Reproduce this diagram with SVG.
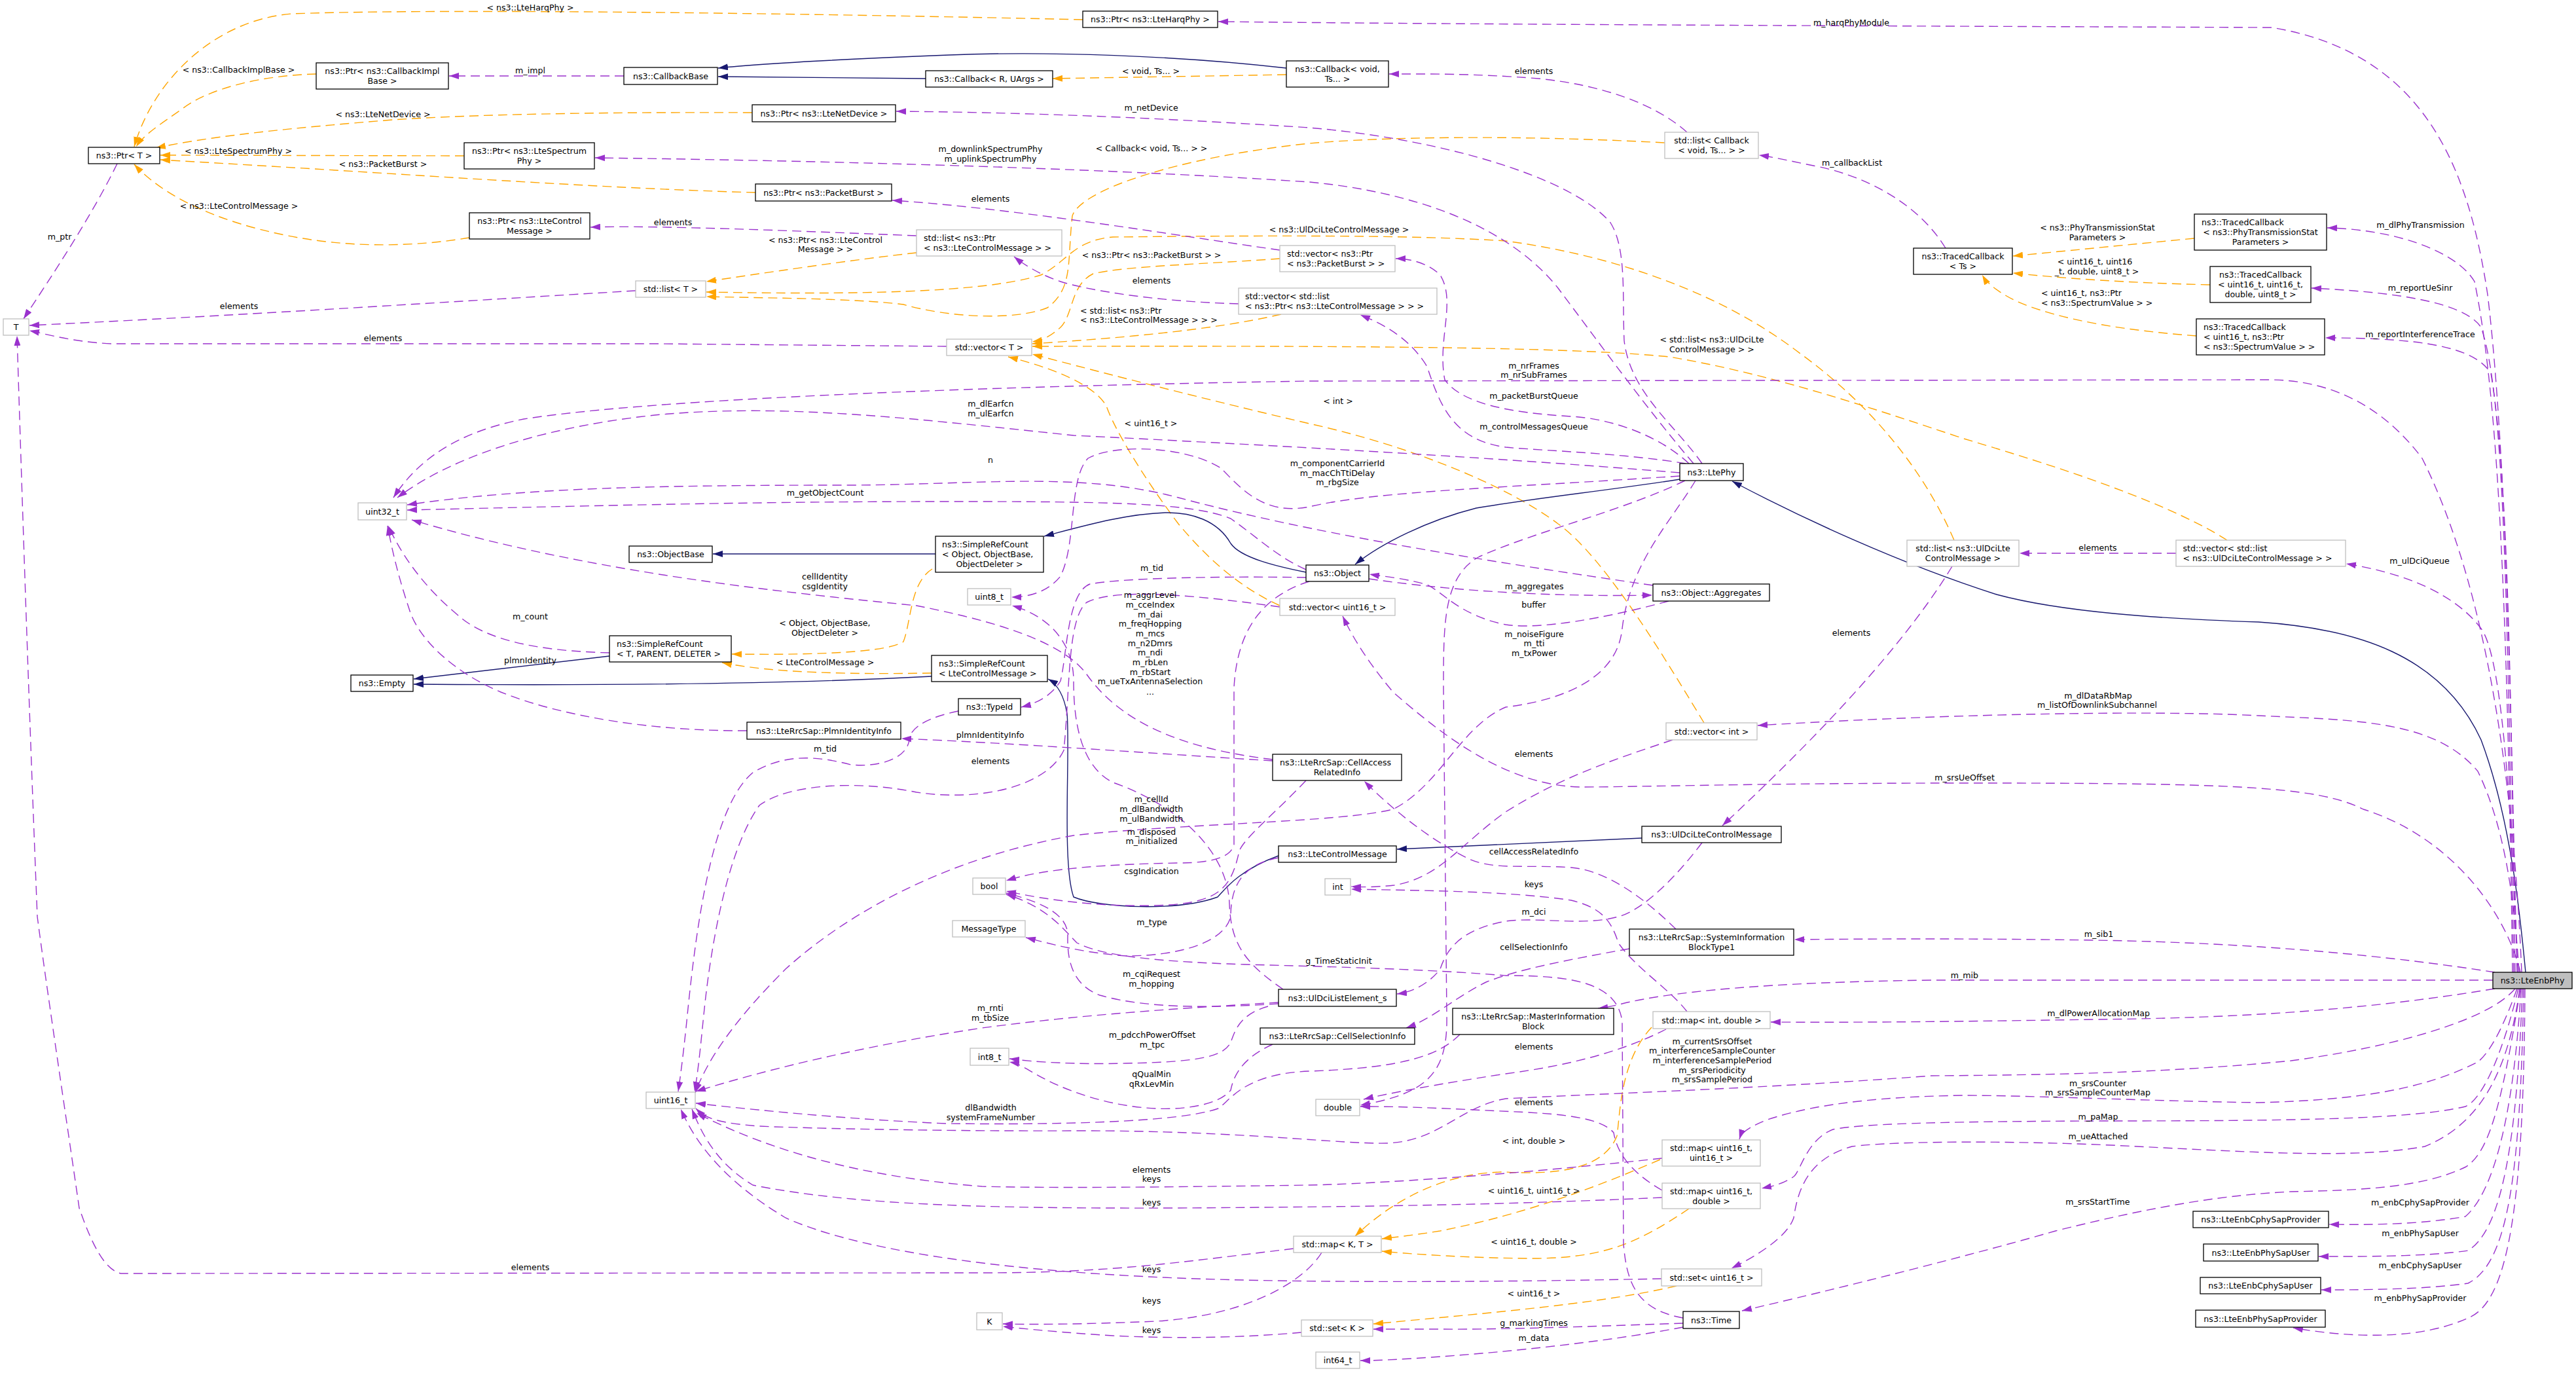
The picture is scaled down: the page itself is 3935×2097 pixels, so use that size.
<svg xmlns="http://www.w3.org/2000/svg" width="3935" height="2097" viewBox="0 0 3935 2097">
<style>
.nd rect{fill:#fff;stroke:#000;stroke-width:1.3}
.ng rect{fill:#fff;stroke:#bfbfbf;stroke-width:1.3}
.nf rect{fill:#bfbfbf;stroke:#000;stroke-width:1.3}
text{font-family:"DejaVu Sans","Liberation Sans",sans-serif;font-size:12.6px;fill:#000}
.m{text-anchor:middle}
.ep{fill:none;stroke:#9a32cd;stroke-width:1.4;stroke-dasharray:14,8;marker-end:url(#mp)}
.eo{fill:none;stroke:#ffa500;stroke-width:1.4;stroke-dasharray:14,8;marker-end:url(#mo)}
.en{fill:none;stroke:#191970;stroke-width:1.4;marker-end:url(#mn)}
</style>
<defs>
<marker id="mp" viewBox="0 0 15 10" refX="15" refY="5" markerWidth="15" markerHeight="10" markerUnits="userSpaceOnUse" orient="auto"><path d="M0,0L15,5L0,10z" fill="#9a32cd"/></marker>
<marker id="mo" viewBox="0 0 15 10" refX="15" refY="5" markerWidth="15" markerHeight="10" markerUnits="userSpaceOnUse" orient="auto"><path d="M0,0L15,5L0,10z" fill="#ffa500"/></marker>
<marker id="mn" viewBox="0 0 15 10" refX="15" refY="5" markerWidth="15" markerHeight="10" markerUnits="userSpaceOnUse" orient="auto"><path d="M0,0L15,5L0,10z" fill="#191970"/></marker>
</defs>
<rect x="0" y="0" width="3935" height="2097" fill="#fff"/>
<g id="connectors">
<path class="eo" d="M1654,30 C1300,22 700,12 446,21 C330,30 235,120 205,224"/><text class="m" x="810" y="15.5">&lt; ns3::LteHarqPhy &gt;</text>
<path class="eo" d="M483,113 C400,115 320,135 280,165 C245,190 220,205 208,224"/><text class="m" x="364.5" y="110.5">&lt; ns3::CallbackImplBase &gt;</text>
<path class="eo" d="M1149,172 C900,171 720,175 600,183 C450,195 320,208 238,226"/><text class="m" x="585" y="178.5">&lt; ns3::LteNetDevice &gt;</text>
<path class="eo" d="M709,238 L245,237"/><text class="m" x="364" y="234.5">&lt; ns3::LteSpectrumPhy &gt;</text>
<path class="eo" d="M1154,294 C1000,290 800,278 640,268 C500,259 350,250 245,244"/><text class="m" x="585" y="254.5">&lt; ns3::PacketBurst &gt;</text>
<path class="eo" d="M717,363 C640,376 540,380 440,360 C330,338 250,300 205,251"/><text class="m" x="365" y="318.5">&lt; ns3::LteControlMessage &gt;</text>
<path class="eo" d="M1965,114 L1608,120"/><text class="m" x="1758" y="112.5">&lt; void, Ts... &gt;</text>
<path class="eo" d="M1400,386 C1300,397 1160,418 1079,430"/><text class="m" x="1261" y="370.5">&lt; ns3::Ptr&lt; ns3::LteControl</text><text class="m" x="1261" y="385">Message &gt; &gt;</text>
<path class="eo" d="M2985,825 C2940,720 2860,620 2750,540 C2620,440 2450,388 2300,368 C2150,358 1900,360 1700,362 C1640,367 1630,400 1590,420 C1500,448 1300,450 1079,446"/><text class="m" x="2045.5" y="355">&lt; ns3::UlDciLteControlMessage &gt;</text>
<path class="eo" d="M2543,218 C2300,205 2100,210 2000,219 C1800,240 1650,290 1638,330 C1630,400 1640,440 1600,470 C1550,490 1450,485 1380,465 C1300,455 1150,455 1079,453"/><text class="m" x="1759" y="231.3">&lt; Callback&lt; void, Ts... &gt; &gt;</text>
<path class="eo" d="M1957,480 C1850,505 1700,517 1577,525"/><text x="1650" y="478.5">&lt; std::list&lt; ns3::Ptr</text><text x="1650" y="492.5">&lt; ns3::LteControlMessage &gt; &gt; &gt;</text>
<path class="eo" d="M1955,395 C1850,403 1720,406 1670,418 C1635,435 1640,480 1620,500 C1605,513 1595,519 1577,522"/><text class="m" x="1759" y="394.2">&lt; ns3::Ptr&lt; ns3::PacketBurst &gt; &gt;</text>
<path class="eo" d="M3402,825 C3300,760 3100,700 3000,670 C2850,620 2700,570 2550,545 C2400,530 2100,528 1577,529"/><text class="m" x="2615" y="523.3">&lt; std::list&lt; ns3::UlDciLte</text><text class="m" x="2615" y="537.5">ControlMessage &gt; &gt;</text>
<path class="eo" d="M2603,1104 C2540,1000 2450,850 2380,800 C2300,740 2150,680 2000,647 C1800,600 1650,560 1577,541"/><text class="m" x="2044" y="617">&lt; int &gt;</text>
<path class="eo" d="M1955,925 C1900,900 1850,860 1800,800 C1740,720 1700,650 1690,620 C1670,585 1600,560 1540,545"/><text class="m" x="1758" y="651">&lt; uint16_t &gt;</text>
<path class="eo" d="M3352,364 L3075,391"/><text class="m" x="3204" y="351.5">&lt; ns3::PhyTransmissionStat</text><text class="m" x="3204" y="367">Parameters &gt;</text>
<path class="eo" d="M3376,435 C3250,432 3150,425 3075,417"/><text class="m" x="3200" y="404">&lt; uint16_t, uint16</text><text class="m" x="3203" y="418.5">_t, double, uint8_t &gt;</text>
<path class="eo" d="M3355,513 C3250,505 3150,490 3080,460 C3050,445 3035,432 3028,420"/><text x="3118" y="451.5">&lt; uint16_t, ns3::Ptr</text><text x="3118" y="467">&lt; ns3::SpectrumValue &gt; &gt;</text>
<path class="eo" d="M1424,869 C1390,890 1392,950 1380,980 C1350,1000 1200,1000 1118,999"/><text class="m" x="1260" y="955.8">&lt; Object, ObjectBase,</text><text class="m" x="1260" y="971">ObjectDeleter &gt;</text>
<path class="eo" d="M1423,1028 C1300,1030 1180,1028 1103,1012"/><text class="m" x="1260.5" y="1015.5">&lt; LteControlMessage &gt;</text>
<path class="eo" d="M2523,1569 C2475,1620 2475,1700 2470,1735 C2450,1785 2380,1795 2300,1790 C2200,1790 2120,1840 2070,1888"/><text class="m" x="2343" y="1746.8">&lt; int, double &gt;</text>
<path class="eo" d="M2536,1771 C2400,1830 2300,1860 2200,1880 C2150,1888 2125,1890 2111,1892"/><text class="m" x="2343" y="1823.2">&lt; uint16_t, uint16_t &gt;</text>
<path class="eo" d="M2580,1846 C2500,1900 2450,1920 2350,1922 C2250,1922 2150,1915 2111,1911"/><text class="m" x="2343" y="1901">&lt; uint16_t, double &gt;</text>
<path class="eo" d="M2561,1964 C2450,1990 2300,2003 2098,2022"/><text class="m" x="2343" y="1980.2">&lt; uint16_t &gt;</text>
<path class="en" d="M1965,104 C1800,85 1600,78 1450,84 C1300,90 1150,98 1097,104"/>
<path class="en" d="M1414,120 L1097,117"/>
<path class="en" d="M1429,846 L1089,846"/>
<path class="en" d="M1995,874 C1950,865 1895,852 1880,830 C1860,795 1820,782 1780,783 C1720,785 1660,802 1595,819"/>
<path class="en" d="M2566,732 C2450,750 2350,760 2255,776 C2180,795 2110,830 2070,862"/>
<path class="en" d="M3858,1485 C3850,1400 3835,1250 3790,1130 C3730,1000 3600,960 3450,950 C3300,945 3150,935 3050,908 C2900,860 2750,790 2646,735"/>
<path class="en" d="M931,1002 L632,1037"/>
<path class="en" d="M1423,1033 C1200,1045 900,1047 632,1045"/>
<path class="en" d="M1953,1307 C1890,1330 1870,1360 1860,1370 C1800,1392 1680,1387 1640,1370 C1622,1320 1635,1150 1630,1090 C1625,1060 1615,1045 1601,1037"/>
<path class="en" d="M2508,1280 L2134,1297"/>
<path class="ep" d="M3845,1485 C3835,1100 3830,700 3800,450 C3770,250 3700,80 3470,42 C3000,40 2300,38 1861,33"/><text class="m" x="2828" y="38.9">m_harqPhyModule</text>
<path class="ep" d="M953,116 L686,116"/><text class="m" x="810" y="111.5">m_impl</text>
<path class="ep" d="M2600,708 C2560,650 2490,600 2481,520 C2478,450 2485,380 2460,340 C2400,270 2200,212 2000,195 C1800,182 1600,172 1369,170"/><text class="m" x="1758.6" y="168.5">m_netDevice</text>
<path class="ep" d="M2587,708 C2520,630 2440,520 2380,440 C2300,340 2150,292 2000,278 C1700,258 1300,246 909,241"/><text class="m" x="1513" y="232.2">m_downlinkSpectrumPhy</text><text class="m" x="1513" y="246.9">m_uplinkSpectrumPhy</text>
<path class="ep" d="M1400,360 C1200,352 1000,344 902,347"/><text class="m" x="1028" y="343.8">elements</text>
<path class="ep" d="M1955,382 C1800,360 1550,318 1363,306"/><text class="m" x="1513" y="308.1">elements</text>
<path class="ep" d="M1892,464 C1750,460 1650,440 1620,430 C1590,420 1565,405 1549,392"/><text class="m" x="1759" y="433.1">elements</text>
<path class="ep" d="M2577,202 C2530,160 2450,130 2350,120 C2250,112 2180,113 2122,113"/><text class="m" x="2343" y="113">elements</text>
<path class="ep" d="M2972,379 C2930,310 2850,270 2780,255 C2730,245 2710,240 2687,237"/><text class="m" x="2829" y="253.2">m_callbackList</text>
<path class="ep" d="M3838,1485 C3830,900 3815,600 3780,430 C3750,380 3650,350 3555,348"/><text class="m" x="3697.5" y="348.2">m_dlPhyTransmission</text>
<path class="ep" d="M3840,1485 C3830,900 3825,600 3790,500 C3770,470 3700,448 3531,440"/><text class="m" x="3697" y="444.2">m_reportUeSinr</text>
<path class="ep" d="M3842,1485 C3835,1000 3830,720 3805,570 C3780,530 3700,516 3552,516"/><text class="m" x="3697" y="514.8">m_reportInterferenceTrace</text>
<path class="ep" d="M3846,1485 C3835,1200 3820,1000 3790,960 C3760,920 3700,880 3584,861"/><text class="m" x="3696" y="860.5">m_ulDciQueue</text>
<path class="ep" d="M3848,1485 C3840,1350 3820,1250 3785,1178 C3720,1100 3600,1100 3450,1093 C3300,1085 3000,1089 2685,1108"/><text class="m" x="3205" y="1067">m_dlDataRbMap</text><text class="m" x="3203.5" y="1080.8">m_listOfDownlinkSubchannel</text>
<path class="ep" d="M3850,1485 C3830,1400 3750,1280 3610,1236 C3540,1200 3400,1196 3000,1196 C2700,1196 2500,1202 2414,1202 C2300,1200 2200,1120 2128,1057 C2080,1000 2060,960 2051,941"/><text class="m" x="3001" y="1192">m_srsUeOffset</text>
<path class="ep" d="M3852,1485 C3840,1200 3800,900 3700,700 C3640,620 3560,580 3465,580 L2000,582 C1500,590 1000,609 800,640 C700,660 640,700 601,760"/><text class="m" x="2343" y="563">m_nrFrames</text><text class="m" x="2343" y="576.8">m_nrSubFrames</text>
<path class="ep" d="M2566,722 C2300,700 2000,683 1640,665 C1400,640 1200,615 1000,634 C850,650 700,690 607,760"/><text class="m" x="1513.4" y="620.5">m_dlEarfcn</text><text class="m" x="1513.4" y="635.5">m_ulEarfcn</text>
<path class="ep" d="M2525,894 C2150,840 1950,800 1800,760 C1650,720 1500,740 1300,741 C1000,741 800,745 622,771"/><text class="m" x="1513" y="706.5">n</text>
<path class="ep" d="M2566,727 C2300,745 2100,750 2000,774 C1930,788 1895,745 1865,715 C1810,680 1700,678 1662,700 C1632,730 1645,830 1620,880 C1600,905 1570,912 1545,912"/><text class="m" x="2043" y="712.1">m_componentCarrierId</text><text class="m" x="2043" y="726.8">m_macChTtiDelay</text><text class="m" x="2043" y="741.1">m_rbgSize</text>
<path class="ep" d="M1995,870 C1950,850 1920,820 1880,792 C1820,768 1700,766 1450,766 C1200,766 1000,770 622,779"/><text class="m" x="1260.5" y="756.5">m_getObjectCount</text>
<path class="ep" d="M1944,1160 C1830,1146 1720,1115 1660,1030 C1620,975 1500,945 1400,925 C1200,905 900,875 629,794"/><text class="m" x="1260" y="884.9">cellIdentity</text><text class="m" x="1260" y="900">csgIdentity</text>
<path class="ep" d="M931,997 C850,995 750,985 700,940 C640,890 610,840 593,803"/><text class="m" x="810" y="945.5">m_count</text>
<path class="ep" d="M1141,1116 C1000,1117 860,1095 765,1057 C700,1030 640,980 625,930 C605,870 597,830 592,803"/><text class="m" x="810" y="1012.5">plmnIdentity</text>
<path class="ep" d="M1995,882 C1880,880 1720,882 1665,892 C1630,905 1630,1000 1620,1040 C1605,1065 1580,1075 1560,1080"/><text class="m" x="1759.6" y="871.9">m_tid</text>
<path class="ep" d="M1464,1086 C1420,1095 1390,1110 1389,1130 C1385,1160 1340,1172 1300,1168 C1250,1155 1200,1150 1150,1180 C1090,1230 1065,1400 1050,1550 C1045,1600 1040,1640 1036,1667"/><text class="m" x="1260.6" y="1147.5">m_tid</text>
<path class="ep" d="M1955,927 C1800,905 1700,900 1660,920 C1630,945 1635,1050 1625,1146 C1600,1200 1500,1225 1400,1210 C1300,1190 1200,1200 1160,1230 C1110,1300 1085,1450 1075,1550 C1070,1600 1066,1640 1061,1667"/><text class="m" x="1513" y="1166.5">elements</text>
<path class="ep" d="M1960,1511 C1900,1470 1880,1440 1878,1380 C1875,1300 1800,1230 1700,1195 C1650,1170 1640,1100 1640,1040 C1640,980 1600,940 1546,925"/>
<text class="m" x="1757" y="913">m_aggrLevel</text><text class="m" x="1757" y="928.2">m_cceIndex</text><text class="m" x="1757" y="942.9">m_dai</text><text class="m" x="1757" y="957.2">m_freqHopping</text><text class="m" x="1757" y="972.4">m_mcs</text><text class="m" x="1757" y="987.1">m_n2Dmrs</text><text class="m" x="1757" y="1000.9">m_ndi</text><text class="m" x="1757" y="1016.1">m_rbLen</text><text class="m" x="1757" y="1030.8">m_rbStart</text><text class="m" x="1757" y="1045.1">m_ueTxAntennaSelection</text><text class="m" x="1757" y="1060.5">...</text>
<path class="ep" d="M2091,884 C2200,900 2350,912 2524,909"/><text class="m" x="2343.6" y="900">m_aggregates</text>
<path class="ep" d="M2549,918 C2450,945 2350,962 2300,954 C2230,940 2205,905 2180,893 C2140,882 2110,880 2092,877"/><text class="m" x="2343" y="927.5">buffer</text>
<path class="ep" d="M2574,734 C2480,780 2350,810 2260,850 C2205,880 2205,950 2205,1050 L2210,1550 C2212,1640 2180,1670 2078,1688"/><text class="m" x="2343.6" y="972.5">m_noiseFigure</text><text class="m" x="2343.6" y="987.1">m_tti</text><text class="m" x="2343.6" y="1001.5">m_txPower</text>
<path class="ep" d="M2580,708 C2540,670 2470,640 2400,636 C2300,630 2232,615 2207,580 C2195,520 2225,460 2200,420 C2180,400 2150,395 2132,395"/><text class="m" x="2343" y="609">m_packetBurstQueue</text>
<path class="ep" d="M2575,708 C2480,692 2350,688 2300,683 C2220,672 2200,620 2180,560 C2150,510 2100,490 2078,481"/><text class="m" x="2343" y="655.5">m_controlMessagesQueue</text>
<path class="ep" d="M2590,734 C2550,800 2490,860 2478,960 C2470,1040 2380,1070 2300,1080 C2230,1110 2200,1200 2128,1236 C2050,1256 1800,1258 1640,1276 C1450,1310 1300,1390 1200,1480 C1120,1560 1080,1620 1062,1669"/><text class="m" x="1758.7" y="1224.5">m_cellId</text><text class="m" x="1758.7" y="1239.8">m_dlBandwidth</text><text class="m" x="1758.7" y="1254.9">m_ulBandwidth</text>
<path class="ep" d="M2000,888 C1930,910 1890,960 1885,1050 L1885,1290 C1880,1310 1850,1318 1800,1318 C1700,1320 1600,1325 1537,1345"/><text class="m" x="1759" y="1275">m_disposed</text><text class="m" x="1759" y="1289.3">m_initialized</text>
<path class="ep" d="M1995,1192 C1950,1240 1900,1280 1893,1300 C1880,1360 1860,1380 1765,1383 C1680,1385 1600,1375 1537,1361"/><text class="m" x="1759" y="1334.5">csgIndication</text>
<path class="ep" d="M1944,1162 C1750,1150 1550,1135 1377,1128"/><text class="m" x="1512.6" y="1126.5">plmnIdentityInfo</text>
<path class="ep" d="M1953,1533 C1850,1540 1750,1540 1680,1520 C1640,1505 1630,1470 1631,1430 C1632,1400 1600,1380 1537,1364"/><text class="m" x="1759" y="1492.1">m_cqiRequest</text><text class="m" x="1759" y="1507.2">m_hopping</text>
<path class="ep" d="M1953,1310 C1900,1320 1880,1350 1880,1400 C1870,1440 1800,1460 1720,1460 C1650,1455 1600,1440 1567,1432"/><text class="m" x="1759.5" y="1413.4">m_type</text>
<path class="ep" d="M2571,2013 C2500,2000 2485,1960 2480,1900 L2478,1560 C2470,1500 2400,1490 2300,1490 C2200,1482 2100,1478 1900,1473 C1750,1468 1680,1458 1645,1440 C1625,1420 1600,1385 1537,1366"/><text class="m" x="2045" y="1472.1">g_TimeStaticInit</text>
<path class="ep" d="M2600,1287 C2560,1340 2510,1390 2472,1400 C2420,1415 2350,1400 2300,1407 C2230,1420 2210,1450 2200,1480 C2185,1500 2160,1515 2134,1518"/><text class="m" x="2343" y="1397.3">m_dci</text>
<path class="ep" d="M2982,865 C2900,1000 2750,1150 2631,1261"/><text class="m" x="2828" y="971">elements</text>
<path class="ep" d="M3324,845 L3085,845"/><text class="m" x="3204.4" y="840.7">elements</text>
<path class="ep" d="M2555,1130 C2450,1165 2380,1190 2300,1240 C2230,1290 2200,1340 2130,1352 C2100,1355 2080,1355 2064,1354"/><text class="m" x="2343" y="1155.5">elements</text>
<path class="ep" d="M2577,1545 C2550,1510 2500,1480 2472,1440 C2460,1400 2440,1385 2400,1375 C2300,1360 2150,1360 2064,1358"/><text class="m" x="2343" y="1354.9">keys</text>
<path class="ep" d="M2560,1419 C2520,1380 2460,1330 2400,1325 C2330,1320 2280,1330 2240,1310 C2180,1280 2120,1230 2084,1193"/><text class="m" x="2343" y="1304.9">cellAccessRelatedInfo</text>
<path class="ep" d="M2489,1449 C2400,1465 2320,1480 2270,1500 C2220,1525 2190,1555 2148,1570"/><text class="m" x="2343" y="1450.7">cellSelectionInfo</text>
<path class="ep" d="M1953,1531 C1800,1540 1650,1550 1500,1570 C1300,1600 1150,1640 1063,1667"/><text class="m" x="1512.7" y="1544.1">m_rnti</text><text class="m" x="1512.7" y="1559.2">m_tbSize</text>
<path class="ep" d="M1937,1537 C1890,1550 1885,1580 1880,1592 C1870,1612 1840,1622 1720,1624 C1640,1626 1580,1622 1542,1617"/><text class="m" x="1760" y="1585">m_pdcchPowerOffset</text><text class="m" x="1760" y="1600.1">m_tpc</text>
<path class="ep" d="M1944,1595 C1900,1615 1885,1640 1880,1665 C1860,1690 1800,1695 1765,1693 C1700,1690 1640,1670 1600,1650 C1570,1635 1560,1625 1542,1622"/><text class="m" x="1759" y="1645">qQualMin</text><text class="m" x="1759" y="1660.1">qRxLevMin</text>
<path class="ep" d="M2230,1580 C2200,1610 2150,1631 2000,1636 C1900,1640 1880,1680 1861,1693 C1800,1715 1600,1718 1446,1716 C1300,1710 1150,1695 1063,1685"/><text class="m" x="1513.5" y="1695.5">dlBandwidth</text><text class="m" x="1513.5" y="1710.5">systemFrameNumber</text>
<path class="ep" d="M3842,1510 C3800,1560 3650,1600 3500,1620 C3300,1640 3100,1642 2950,1643 C2700,1662 2500,1668 2300,1678 C2230,1690 2200,1742 2120,1746 C2050,1748 1900,1727 1650,1727 C1400,1728 1200,1722 1159,1720 C1100,1715 1080,1710 1063,1693"/><text class="m" x="2615.4" y="1594.8">m_currentSrsOffset</text><text class="m" x="2615.4" y="1609">m_interferenceSampleCounter</text><text class="m" x="2615.4" y="1623.7">m_interferenceSamplePeriod</text><text class="m" x="2615.4" y="1638.8">m_srsPeriodicity</text><text class="m" x="2615.4" y="1653">m_srsSamplePeriod</text>
<path class="ep" d="M2539,1769 C2300,1795 2100,1808 2000,1810 C1800,1813 1600,1815 1500,1812 C1350,1800 1200,1770 1064,1700"/><text class="m" x="1759" y="1791.2">elements</text><text class="m" x="1759" y="1805">keys</text>
<path class="ep" d="M2539,1829 C2300,1840 2100,1843 1800,1845 C1500,1846 1300,1840 1150,1810 C1100,1780 1075,1740 1057,1694"/><text class="m" x="1759" y="1841">keys</text>
<path class="ep" d="M2538,1953 C2300,1958 2000,1960 1800,1952 C1500,1940 1300,1905 1200,1860 C1100,1800 1060,1740 1040,1694"/><text class="m" x="1759" y="1943.3">keys</text>
<path class="ep" d="M1976,1907 C1800,1928 1700,1944 1500,1944 L185,1945 C160,1940 140,1900 121,1845 C100,1700 70,1500 57,1400 C45,1100 35,800 26,513"/><text class="m" x="810" y="1940.1">elements</text>
<path class="ep" d="M2019,1913 C1990,1960 1900,2010 1765,2018 C1650,2023 1570,2023 1532,2022"/><text class="m" x="1759" y="1991.3">keys</text>
<path class="ep" d="M1988,2035 C1900,2043 1800,2045 1700,2040 C1620,2035 1570,2030 1532,2026"/><text class="m" x="1759" y="2035.7">keys</text>
<path class="ep" d="M2571,2021 C2450,2025 2300,2031 2200,2030 C2150,2030 2120,2030 2098,2030"/><text class="m" x="2343" y="2024.5">g_markingTimes</text>
<path class="ep" d="M2571,2027 C2450,2050 2300,2065 2200,2072 C2130,2077 2100,2078 2078,2078"/><text class="m" x="2343" y="2048.2">m_data</text>
<path class="ep" d="M3850,1510 C3820,1700 3800,1760 3767,1782 C3700,1815 3600,1818 3500,1820 C3400,1825 3300,1840 3140,1880 C3000,1920 2800,1970 2661,2002"/><text class="m" x="3204.4" y="1840.1">m_srsStartTime</text>
<path class="ep" d="M3811,1485 C3650,1460 3450,1440 3200,1436 C3000,1433 2850,1434 2741,1435"/><text class="m" x="3206" y="1431">m_sib1</text>
<path class="ep" d="M3808,1497 L2950,1497 C2700,1500 2550,1515 2478,1533 C2462,1537 2452,1539 2441,1540"/><text class="m" x="3000.8" y="1493.5">m_mib</text>
<path class="ep" d="M3811,1510 C3600,1545 3400,1555 3200,1557 C3000,1560 2850,1562 2705,1561"/><text class="m" x="3205.6" y="1552.1">m_dlPowerAllocationMap</text>
<path class="ep" d="M3845,1510 C3820,1580 3800,1610 3785,1622 C3700,1665 3600,1680 3450,1684 C3300,1682 3100,1673 3000,1673 C2850,1675 2760,1690 2700,1710 C2670,1722 2660,1730 2657,1740"/><text class="m" x="3204.5" y="1659.2">m_srsCounter</text><text class="m" x="3204.5" y="1673">m_srsSampleCounterMap</text>
<path class="ep" d="M3847,1510 C3820,1620 3790,1680 3766,1690 C3680,1710 3500,1712 3200,1712 C3000,1713 2850,1715 2800,1725 C2760,1740 2750,1790 2740,1797 C2720,1810 2705,1812 2691,1815"/><text class="m" x="3205" y="1709.5">m_paMap</text>
<path class="ep" d="M3849,1510 C3830,1650 3780,1720 3704,1751 C3600,1770 3450,1760 3264,1751 C3100,1742 2900,1742 2829,1751 C2760,1770 2746,1820 2740,1860 C2730,1890 2680,1920 2645,1937"/><text class="m" x="3205" y="1740.1">m_ueAttached</text>
<path class="ep" d="M3851,1510 C3840,1700 3810,1820 3766,1858 C3700,1870 3620,1871 3558,1870"/><text class="m" x="3697" y="1841">m_enbCphySapProvider</text>
<path class="ep" d="M3853,1510 C3845,1750 3820,1880 3770,1910 C3700,1920 3600,1919 3542,1919"/><text class="m" x="3697" y="1888.1">m_enbPhySapUser</text>
<path class="ep" d="M3855,1510 C3850,1800 3830,1930 3770,1960 C3700,1970 3600,1970 3546,1970"/><text class="m" x="3697" y="1937">m_enbCphySapUser</text>
<path class="ep" d="M3857,1510 C3855,1850 3830,1990 3770,2013 C3700,2045 3600,2045 3503,2028"/><text class="m" x="3697" y="1987.3">m_enbPhySapProvider</text>
<path class="ep" d="M2545,1572 C2480,1605 2400,1627 2300,1640 C2200,1655 2120,1670 2083,1679"/><text class="m" x="2343" y="1603.2">elements</text>
<path class="ep" d="M2539,1818 C2490,1790 2470,1760 2465,1730 C2440,1700 2350,1700 2250,1695 C2150,1690 2110,1690 2078,1690"/><text class="m" x="2343" y="1688.1">elements</text>
<path class="ep" d="M179,250 C140,330 80,420 36,487"/><text class="m" x="91" y="365.5">m_ptr</text>
<path class="ep" d="M971,444 C700,460 400,480 45,497"/><text class="m" x="365" y="471.5">elements</text>
<path class="ep" d="M1446,529 L1000,525 C600,525 300,525 170,525 C110,522 70,510 45,505"/><text class="m" x="585" y="521">elements</text>
</g>
<g id="n_PtrT" class="nd"><rect x="135" y="225" width="109" height="25"/><text class="m" x="189.5" y="242">ns3::Ptr&lt; T &gt;</text></g>
<g id="n_PtrCallbackImplBase" class="nd"><rect x="483" y="96" width="202" height="40"/><text class="m" x="584" y="113">ns3::Ptr&lt; ns3::CallbackImpl</text><text class="m" x="584" y="128">Base &gt;</text></g>
<g id="n_PtrLteSpectrumPhy" class="nd"><rect x="709" y="218" width="199" height="40"/><text class="m" x="808.5" y="235">ns3::Ptr&lt; ns3::LteSpectrum</text><text class="m" x="808.5" y="250">Phy &gt;</text></g>
<g id="n_PtrLteControlMessage" class="nd"><rect x="717" y="325" width="184" height="40"/><text class="m" x="809" y="342">ns3::Ptr&lt; ns3::LteControl</text><text class="m" x="809" y="357">Message &gt;</text></g>
<g id="n_T" class="ng"><rect x="5" y="487" width="39" height="25"/><text class="m" x="24.5" y="504">T</text></g>
<g id="n_CallbackBase" class="nd"><rect x="953" y="103" width="143" height="26"/><text class="m" x="1024.5" y="120.5">ns3::CallbackBase</text></g>
<g id="n_PtrLteHarqPhy" class="nd"><rect x="1654" y="17" width="206" height="25"/><text class="m" x="1757" y="34">ns3::Ptr&lt; ns3::LteHarqPhy &gt;</text></g>
<g id="n_CallbackRUArgs" class="nd"><rect x="1414" y="108" width="194" height="25"/><text class="m" x="1511" y="125">ns3::Callback&lt; R, UArgs &gt;</text></g>
<g id="n_PtrLteNetDevice" class="nd"><rect x="1149" y="160" width="219" height="26"/><text class="m" x="1258.5" y="177.5">ns3::Ptr&lt; ns3::LteNetDevice &gt;</text></g>
<g id="n_PtrPacketBurst" class="nd"><rect x="1154" y="281" width="208" height="26"/><text class="m" x="1258" y="298.5">ns3::Ptr&lt; ns3::PacketBurst &gt;</text></g>
<g id="n_listPtrLteControlMessage" class="ng"><rect x="1400" y="351" width="222" height="40"/><text x="1411" y="368">std::list&lt; ns3::Ptr</text><text x="1411" y="383">&lt; ns3::LteControlMessage &gt; &gt;</text></g>
<g id="n_listT" class="ng"><rect x="971" y="429" width="107" height="25"/><text class="m" x="1024.5" y="446">std::list&lt; T &gt;</text></g>
<g id="n_vectorListPtrLteControlMessage" class="ng"><rect x="1892" y="440" width="303" height="40"/><text x="1902" y="457">std::vector&lt; std::list</text><text x="1902" y="472">&lt; ns3::Ptr&lt; ns3::LteControlMessage &gt; &gt; &gt;</text></g>
<g id="n_vectorPtrPacketBurst" class="ng"><rect x="1955" y="375" width="176" height="40"/><text x="1966" y="392">std::vector&lt; ns3::Ptr</text><text x="1966" y="407">&lt; ns3::PacketBurst &gt; &gt;</text></g>
<g id="n_vectorT" class="ng"><rect x="1446" y="518" width="130" height="25"/><text class="m" x="1511" y="535">std::vector&lt; T &gt;</text></g>
<g id="n_CallbackVoidTs" class="nd"><rect x="1965" y="93" width="156" height="40"/><text class="m" x="2043" y="110">ns3::Callback&lt; void,</text><text class="m" x="2043" y="125">Ts... &gt;</text></g>
<g id="n_listCallback" class="ng"><rect x="2543" y="202" width="143" height="40"/><text class="m" x="2614.5" y="219">std::list&lt; Callback</text><text class="m" x="2614.5" y="234">&lt; void, Ts... &gt; &gt;</text></g>
<g id="n_TracedCallbackTs" class="nd"><rect x="2923" y="379" width="151" height="40"/><text class="m" x="2998.5" y="396">ns3::TracedCallback</text><text class="m" x="2998.5" y="411">&lt; Ts &gt;</text></g>
<g id="n_TracedCallbackPhyTx" class="nd"><rect x="3352" y="327" width="202" height="55"/><text x="3363" y="344">ns3::TracedCallback</text><text class="m" x="3453" y="359">&lt; ns3::PhyTransmissionStat</text><text class="m" x="3453" y="374">Parameters &gt;</text></g>
<g id="n_TracedCallbackSinr" class="nd"><rect x="3376" y="407" width="154" height="55"/><text class="m" x="3453" y="424">ns3::TracedCallback</text><text class="m" x="3453" y="439">&lt; uint16_t, uint16_t,</text><text class="m" x="3453" y="454">double, uint8_t &gt;</text></g>
<g id="n_TracedCallbackSpectrum" class="nd"><rect x="3355" y="487" width="196" height="55"/><text x="3366" y="504">ns3::TracedCallback</text><text x="3366" y="519">&lt; uint16_t, ns3::Ptr</text><text x="3366" y="534">&lt; ns3::SpectrumValue &gt; &gt;</text></g>
<g id="n_uint32_t" class="ng"><rect x="547" y="768" width="74" height="26"/><text class="m" x="584" y="785.5">uint32_t</text></g>
<g id="n_ObjectBase" class="nd"><rect x="961" y="834" width="127" height="25"/><text class="m" x="1024.5" y="851">ns3::ObjectBase</text></g>
<g id="n_SimpleRefCountTPD" class="nd"><rect x="931" y="971" width="186" height="40"/><text x="942" y="988">ns3::SimpleRefCount</text><text x="942" y="1003">&lt; T, PARENT, DELETER &gt;</text></g>
<g id="n_Empty" class="nd"><rect x="536" y="1031" width="95" height="25"/><text class="m" x="583.5" y="1048">ns3::Empty</text></g>
<g id="n_SimpleRefCountObject" class="nd"><rect x="1429" y="819" width="165" height="55"/><text x="1439" y="836">ns3::SimpleRefCount</text><text x="1439" y="851">&lt; Object, ObjectBase,</text><text class="m" x="1511.5" y="866">ObjectDeleter &gt;</text></g>
<g id="n_uint8_t" class="ng"><rect x="1478" y="899" width="66" height="25"/><text class="m" x="1511" y="916">uint8_t</text></g>
<g id="n_SimpleRefCountLteControlMessage" class="nd"><rect x="1423" y="1001" width="177" height="40"/><text x="1434" y="1018">ns3::SimpleRefCount</text><text x="1434" y="1033">&lt; LteControlMessage &gt;</text></g>
<g id="n_TypeId" class="nd"><rect x="1464" y="1067" width="95" height="25"/><text class="m" x="1511.5" y="1084">ns3::TypeId</text></g>
<g id="n_PlmnIdentityInfo" class="nd"><rect x="1141" y="1103" width="235" height="26"/><text class="m" x="1258.5" y="1120.5">ns3::LteRrcSap::PlmnIdentityInfo</text></g>
<g id="n_CellAccessRelatedInfo" class="nd"><rect x="1944" y="1152" width="197" height="40"/><text x="1955" y="1169">ns3::LteRrcSap::CellAccess</text><text class="m" x="2042.5" y="1184">RelatedInfo</text></g>
<g id="n_bool" class="ng"><rect x="1486" y="1341" width="50" height="25"/><text class="m" x="1511" y="1358">bool</text></g>
<g id="n_LteControlMessage" class="nd"><rect x="1953" y="1292" width="180" height="25"/><text class="m" x="2043" y="1309">ns3::LteControlMessage</text></g>
<g id="n_LtePhy" class="nd"><rect x="2566" y="708" width="97" height="26"/><text class="m" x="2614.5" y="725.5">ns3::LtePhy</text></g>
<g id="n_Object" class="nd"><rect x="1995" y="863" width="96" height="25"/><text class="m" x="2043" y="880">ns3::Object</text></g>
<g id="n_Aggregates" class="nd"><rect x="2525" y="892" width="178" height="26"/><text class="m" x="2614" y="909.5">ns3::Object::Aggregates</text></g>
<g id="n_vectorUint16" class="ng"><rect x="1955" y="914" width="176" height="26"/><text class="m" x="2043" y="931.5">std::vector&lt; uint16_t &gt;</text></g>
<g id="n_vectorInt" class="ng"><rect x="2545" y="1104" width="139" height="26"/><text class="m" x="2614.5" y="1121.5">std::vector&lt; int &gt;</text></g>
<g id="n_listUlDci" class="ng"><rect x="2913" y="825" width="171" height="40"/><text class="m" x="2998.5" y="842">std::list&lt; ns3::UlDciLte</text><text class="m" x="2998.5" y="857">ControlMessage &gt;</text></g>
<g id="n_vectorListUlDci" class="ng"><rect x="3324" y="825" width="259" height="40"/><text x="3334.5" y="842">std::vector&lt; std::list</text><text x="3334.5" y="857">&lt; ns3::UlDciLteControlMessage &gt; &gt;</text></g>
<g id="n_UlDciLteControlMessage" class="nd"><rect x="2508" y="1262" width="213" height="25"/><text class="m" x="2614.5" y="1279">ns3::UlDciLteControlMessage</text></g>
<g id="n_int" class="ng"><rect x="2024" y="1342" width="39" height="25"/><text class="m" x="2043.5" y="1359">int</text></g>
<g id="n_MessageType" class="ng"><rect x="1455" y="1406" width="111" height="25"/><text class="m" x="1510.5" y="1423">MessageType</text></g>
<g id="n_UlDciListElement" class="nd"><rect x="1953" y="1511" width="180" height="26"/><text class="m" x="2043" y="1528.5">ns3::UlDciListElement_s</text></g>
<g id="n_int8_t" class="ng"><rect x="1482" y="1601" width="59" height="26"/><text class="m" x="1511.5" y="1618.5">int8_t</text></g>
<g id="n_CellSelectionInfo" class="nd"><rect x="1925" y="1570" width="236" height="25"/><text class="m" x="2043" y="1587">ns3::LteRrcSap::CellSelectionInfo</text></g>
<g id="n_uint16_t" class="ng"><rect x="987" y="1668" width="75" height="25"/><text class="m" x="1024.5" y="1685">uint16_t</text></g>
<g id="n_mapKT" class="ng"><rect x="1976" y="1888" width="134" height="25"/><text class="m" x="2043" y="1905">std::map&lt; K, T &gt;</text></g>
<g id="n_K" class="ng"><rect x="1492" y="2005" width="39" height="26"/><text class="m" x="1511.5" y="2022.5">K</text></g>
<g id="n_setK" class="ng"><rect x="1988" y="2016" width="109" height="25"/><text class="m" x="2042.5" y="2033">std::set&lt; K &gt;</text></g>
<g id="n_SIB1" class="nd"><rect x="2489" y="1419" width="251" height="40"/><text class="m" x="2614.5" y="1436">ns3::LteRrcSap::SystemInformation</text><text class="m" x="2614.5" y="1451">BlockType1</text></g>
<g id="n_MIB" class="nd"><rect x="2219" y="1540" width="246" height="40"/><text class="m" x="2342" y="1557">ns3::LteRrcSap::MasterInformation</text><text class="m" x="2342" y="1572">Block</text></g>
<g id="n_mapIntDouble" class="ng"><rect x="2525" y="1545" width="179" height="26"/><text class="m" x="2614.5" y="1562.5">std::map&lt; int, double &gt;</text></g>
<g id="n_double" class="ng"><rect x="2010" y="1679" width="67" height="25"/><text class="m" x="2043.5" y="1696">double</text></g>
<g id="n_mapU16U16" class="ng"><rect x="2539" y="1741" width="150" height="40"/><text class="m" x="2614" y="1758">std::map&lt; uint16_t,</text><text class="m" x="2614" y="1773">uint16_t &gt;</text></g>
<g id="n_mapU16Double" class="ng"><rect x="2539" y="1807" width="150" height="39"/><text class="m" x="2614" y="1823.5">std::map&lt; uint16_t,</text><text class="m" x="2614" y="1838.5">double &gt;</text></g>
<g id="n_setU16" class="ng"><rect x="2538" y="1938" width="153" height="26"/><text class="m" x="2614.5" y="1955.5">std::set&lt; uint16_t &gt;</text></g>
<g id="n_Time" class="nd"><rect x="2571" y="2003" width="86" height="26"/><text class="m" x="2614" y="2020.5">ns3::Time</text></g>
<g id="n_int64_t" class="ng"><rect x="2010" y="2065" width="67" height="25"/><text class="m" x="2043.5" y="2082">int64_t</text></g>
<g id="n_LteEnbPhy" class="nf"><rect x="3808" y="1485" width="121" height="25"/><text class="m" x="3868.5" y="1502">ns3::LteEnbPhy</text></g>
<g id="n_LteEnbCphySapProvider" class="nd"><rect x="3350" y="1850" width="207" height="25"/><text class="m" x="3453.5" y="1867">ns3::LteEnbCphySapProvider</text></g>
<g id="n_LteEnbPhySapUser" class="nd"><rect x="3366" y="1900" width="175" height="26"/><text class="m" x="3453.5" y="1917.5">ns3::LteEnbPhySapUser</text></g>
<g id="n_LteEnbCphySapUser" class="nd"><rect x="3361" y="1951" width="184" height="25"/><text class="m" x="3453" y="1968">ns3::LteEnbCphySapUser</text></g>
<g id="n_LteEnbPhySapProvider" class="nd"><rect x="3354" y="2001" width="198" height="26"/><text class="m" x="3453" y="2018.5">ns3::LteEnbPhySapProvider</text></g>
</svg>
